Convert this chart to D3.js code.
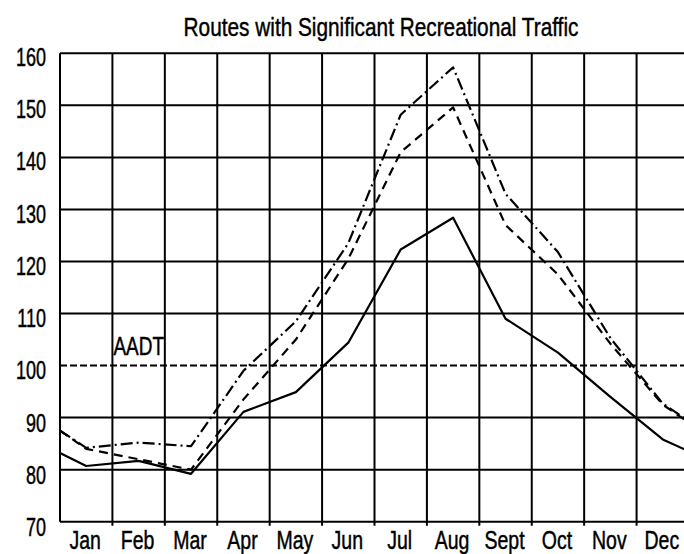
<!DOCTYPE html>
<html>
<head>
<meta charset="utf-8">
<script src="https://cdn.jsdelivr.net/npm/d3@7"></script>
<style>
  html, body { margin: 0; padding: 0; background: #fff; }
  svg { display: block; }
  text { font-family: "Liberation Sans", Arial, sans-serif; fill: #000; stroke: #000; stroke-width: 0.45px; }
</style>
</head>
<body>
<svg id="chart" width="684" height="554"></svg>
<script>
// ---- data ----
const title = "Routes with Significant Recreational Traffic";
const months = ["Jan","Feb","Mar","Apr","May","Jun","Jul","Aug","Sept","Oct","Nov","Dec"];
const yTicks = [70, 80, 90, 100, 110, 120, 130, 140, 150, 160];
const aadtValue = 100;
const aadtLabel = "AADT";
// values: start of year edge, 12 monthly values, end of year edge
const seriesSolid   = [83.2, 80.7, 81.7, 79.2, 91.1, 94.9, 104.4, 122.3, 128.4, 109.0, 102.5, 94.0, 85.8, 83.5];
const seriesDashDot = [87.5, 84.2, 85.2, 84.5, 99.0, 108.5, 123.5, 148.2, 157.3, 133.0, 121.8, 105.3, 92.7, 89.3];
const seriesDashed  = [87.5, 84.0, 82.0, 80.0, 93.5, 105.0, 120.5, 141.0, 149.6, 127.0, 117.5, 104.2, 92.5, 89.0];

// ---- layout ----
const svg = d3.select("#chart");
const x = d3.scaleLinear().domain([0, months.length]).range([60, 689]);
const y = d3.scaleLinear().domain([70, 160]).range([521.7, 53.3]);
const yLab = d3.scaleLinear().domain([70, 160]).range([527, 57]);

// point positions in month units: edge, month centres, edge
const pos = [0, ...months.map((m, i) => i + 0.5), months.length];

const grid = svg.append("g").attr("stroke", "#000").attr("stroke-width", 2);

// horizontal grid lines (100 is drawn as the dashed AADT line)
grid.selectAll("line.h")
  .data(yTicks.filter(v => v !== aadtValue))
  .join("line")
  .attr("class", "h")
  .attr("x1", x(0)).attr("x2", x(months.length))
  .attr("y1", d => y(d)).attr("y2", d => y(d));

// vertical grid lines
grid.selectAll("line.v")
  .data(d3.range(0, months.length + 1))
  .join("line")
  .attr("class", "v")
  .attr("x1", d => x(d)).attr("x2", d => x(d))
  .attr("y1", y(160))
  .attr("y2", d => d === 0 ? y(70) : y(70) + 4);

// AADT dashed line
svg.append("line")
  .attr("x1", x(0)).attr("x2", x(months.length))
  .attr("y1", y(aadtValue)).attr("y2", y(aadtValue))
  .attr("stroke", "#000").attr("stroke-width", 2)
  .attr("stroke-dasharray", "7,3");

svg.append("text")
  .attr("transform", `translate(${x(1) + 1},${y(aadtValue) - 11}) scale(0.76,1)`)
  .attr("font-size", 25)
  .text(aadtLabel);

// series lines
const line = d3.line()
  .x((d, i) => x(pos[i]))
  .y(d => y(d));

const series = [
  { values: seriesSolid, dash: null },
  { values: seriesDashed, dash: "9,6" },
  { values: seriesDashDot, dash: "12,4,2,4" }
];

svg.append("g").selectAll("path")
  .data(series)
  .join("path")
  .attr("d", d => line(d.values))
  .attr("fill", "none")
  .attr("stroke", "#000")
  .attr("stroke-width", 2.2)
  .attr("stroke-linejoin", "round")
  .attr("stroke-dasharray", d => d.dash);

// y labels
svg.append("g").selectAll("text")
  .data(yTicks)
  .join("text")
  .attr("transform", d => `translate(46,${yLab(d)}) scale(0.72,1)`)
  .attr("dy", "0.36em")
  .attr("text-anchor", "end")
  .attr("font-size", 25)
  .text(d => d);

// month labels
svg.append("g").selectAll("text")
  .data(months)
  .join("text")
  .attr("transform", (d, i) => `translate(${x(i + 0.5) - 1},549) scale(0.78,1)`)
  .attr("text-anchor", "middle")
  .attr("font-size", 25)
  .text(d => d);

// title
svg.append("text")
  .attr("transform", `translate(381,36) scale(0.8,1)`)
  .attr("text-anchor", "middle")
  .attr("font-size", 26)
  .text(title);
</script>
</body>
</html>
